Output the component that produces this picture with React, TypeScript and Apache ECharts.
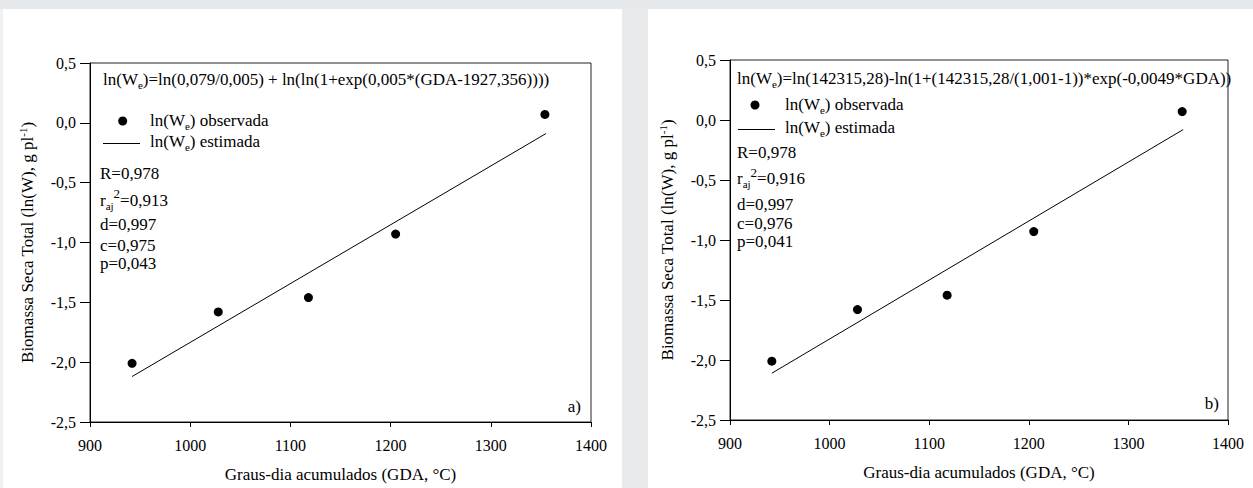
import React, { useEffect, useRef } from "react";
import * as echarts from "echarts";

const FONT = "'Liberation Serif', 'Times New Roman', serif";

// Observed data (GDA, ln(We))
const X_OBS = [942, 1028, 1118, 1205, 1354];
const Y_OBS_A = [-2.01, -1.58, -1.46, -0.93, 0.07];
const Y_OBS_B = [-2.01, -1.58, -1.46, -0.93, 0.07];
// Estimated (fitted) line end points
const X_EST = [942, 1355];
const Y_EST_A = [-2.12, -0.09];
const Y_EST_B = [-2.11, -0.08];

const X_TICKS = [900, 1000, 1100, 1200, 1300, 1400];
const Y_TICKS = [-2.5, -2.0, -1.5, -1.0, -0.5, 0.0, 0.5];

const X_NAME = "Graus-dia acumulados (GDA, °C)";
const Y_NAME = "Biomassa Seca Total (ln(W), g pl{sup|-1})";

const EQ_A = "ln(W{sub|e})=ln(0,079/0,005) + ln(ln(1+exp(0,005*(GDA-1927,356))))";
const EQ_B = "ln(W{sub|e})=ln(142315,28)-ln(1+(142315,28/(1,001-1))*exp(-0,0049*GDA))";
const LEG_OBS = "ln(W{sub|e}) observada";
const LEG_EST = "ln(W{sub|e}) estimada";
const STATS_A = ["R=0,978", "r{sub|aj}{sup|2}=0,913", "d=0,997", "c=0,975", "p=0,043"];
const STATS_B = ["R=0,978", "r{sub|aj}{sup|2}=0,916", "d=0,997", "c=0,976", "p=0,041"];

const RICH = {
  sub: { fontSize: 11, fontFamily: FONT, fill: "#000", lineHeight: 22, padding: [11, 0, 0, 0] },
  sup: { fontSize: 13, fontFamily: FONT, fill: "#000", lineHeight: 22, padding: [0, 0, 13, 0] },
};

function txt(x: number, y: number, text: string, align = "left") {
  return {
    type: "text",
    x,
    y,
    z: 10,
    style: {
      text,
      fontSize: 17,
      fontFamily: FONT,
      fill: "#000",
      align,
      verticalAlign: "middle",
      lineHeight: 22,
      rich: RICH,
    },
  };
}

function panelGraphics(p: any) {
  const els: any[] = [];
  els.push(txt(p.eqX, p.eqY, p.eq));
  els.push({ type: "circle", z: 10, shape: { cx: p.dotX, cy: p.dotY, r: 4.5 }, style: { fill: "#000" } });
  els.push(txt(p.legTextX, p.legObsY, LEG_OBS));
  els.push({
    type: "line",
    z: 10,
    shape: { x1: p.lineX1, y1: p.lineY, x2: p.lineX2, y2: p.lineY },
    style: { stroke: "#000", lineWidth: 1 },
  });
  els.push(txt(p.legTextX, p.legEstY, LEG_EST));
  p.stats.forEach((s: string, i: number) => els.push(txt(p.statX, p.statYs[i], s)));
  els.push(txt(p.labX, p.labY, p.lab, "right"));
  return els;
}

function axisPair(gridIndex: number) {
  const x = {
    type: "value",
    gridIndex,
    min: X_TICKS[0],
    max: X_TICKS[X_TICKS.length - 1],
    interval: X_TICKS[1] - X_TICKS[0],
    name: X_NAME,
    nameLocation: "middle",
    nameGap: 44,
    nameTextStyle: { fontSize: 17, fontFamily: FONT, color: "#000" },
    axisLine: { show: true, onZero: false, lineStyle: { color: "#000", width: 1 } },
    axisTick: { show: true, inside: false, length: 5, lineStyle: { color: "#000" } },
    axisLabel: {
      fontSize: 16,
      fontFamily: FONT,
      color: "#000",
      margin: 15,
      formatter: (v: number) => String(v),
    },
    splitLine: { show: false },
  };
  const y = {
    type: "value",
    gridIndex,
    min: Y_TICKS[0],
    max: Y_TICKS[Y_TICKS.length - 1],
    interval: Y_TICKS[1] - Y_TICKS[0],
    name: Y_NAME,
    nameLocation: "middle",
    nameGap: 52,
    nameTextStyle: {
      fontSize: 17,
      fontFamily: FONT,
      color: "#000",
      rich: {
        sup: { fontSize: 11, fontFamily: FONT, color: "#000", padding: [0, 0, 10, 0] },
      },
    },
    axisLine: { show: true, onZero: false, lineStyle: { color: "#000", width: 1 } },
    axisTick: { show: true, inside: false, length: 10, lineStyle: { color: "#000" } },
    axisLabel: {
      fontSize: 16,
      fontFamily: FONT,
      color: "#000",
      margin: 14,
      formatter: (v: number) => v.toFixed(1).replace(".", ","),
    },
    splitLine: { show: false },
  };
  return { x, y };
}

export default function App() {
  const ref = useRef<HTMLDivElement>(null);

  useEffect(() => {
    document.body.style.margin = "0";
    if (!ref.current) return;
    const chart = echarts.init(ref.current, null, { renderer: "svg" });

    const a = axisPair(0);
    const b = axisPair(1);

    const graphic: any[] = [
      { type: "rect", z: -10, shape: { x: 0, y: 0, width: 1253, height: 9 }, style: { fill: "#e6e9eb" } },
      { type: "rect", z: -10, shape: { x: 622, y: 9, width: 26, height: 479 }, style: { fill: "#e8eaec" } },
      { type: "rect", z: -10, shape: { x: 0, y: 9, width: 3, height: 479 }, style: { fill: "#eef2f5" } },
      ...panelGraphics({
        eq: EQ_A,
        eqX: 103,
        eqY: 79,
        dotX: 122.7,
        dotY: 121,
        legTextX: 150,
        legObsY: 120,
        legEstY: 141,
        lineX1: 103,
        lineX2: 140,
        lineY: 143.5,
        stats: STATS_A,
        statX: 100,
        statYs: [173, 200, 224, 245, 263],
        lab: "a)",
        labX: 581,
        labY: 406,
      }),
      ...panelGraphics({
        eq: EQ_B,
        eqX: 737,
        eqY: 78,
        dotX: 755,
        dotY: 105,
        legTextX: 785,
        legObsY: 104,
        legEstY: 127,
        lineX1: 738,
        lineX2: 775,
        lineY: 129.5,
        stats: STATS_B,
        statX: 737,
        statYs: [152, 178.5, 204, 223, 241],
        lab: "b)",
        labX: 1219,
        labY: 403,
      }),
    ];

    const scatterStyle = { color: "#000", opacity: 1 };

    chart.setOption({
      animation: false,
      backgroundColor: "#ffffff",
      grid: [
        { left: 90, top: 63, width: 501, height: 360, show: true, borderColor: "#222", borderWidth: 1, backgroundColor: "transparent" },
        { left: 730, top: 60, width: 498, height: 360, show: true, borderColor: "#222", borderWidth: 1, backgroundColor: "transparent" },
      ],
      xAxis: [a.x, b.x],
      yAxis: [a.y, b.y],
      series: [
        {
          type: "scatter",
          xAxisIndex: 0,
          yAxisIndex: 0,
          data: X_OBS.map((x, i) => [x, Y_OBS_A[i]]),
          symbolSize: 9,
          itemStyle: scatterStyle,
        },
        {
          type: "line",
          xAxisIndex: 0,
          yAxisIndex: 0,
          data: X_EST.map((x, i) => [x, Y_EST_A[i]]),
          symbol: "none",
          lineStyle: { color: "#000", width: 1 },
        },
        {
          type: "scatter",
          xAxisIndex: 1,
          yAxisIndex: 1,
          data: X_OBS.map((x, i) => [x, Y_OBS_B[i]]),
          symbolSize: 9,
          itemStyle: scatterStyle,
        },
        {
          type: "line",
          xAxisIndex: 1,
          yAxisIndex: 1,
          data: X_EST.map((x, i) => [x, Y_EST_B[i]]),
          symbol: "none",
          lineStyle: { color: "#000", width: 1 },
        },
      ],
      graphic,
    });

    return () => chart.dispose();
  }, []);

  return <div ref={ref} style={{ width: 1253, height: 488 }} />;
}
